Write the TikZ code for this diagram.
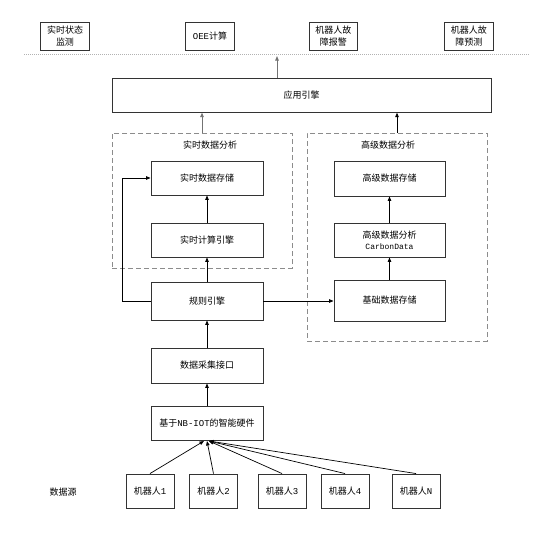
\documentclass[tikz,border=0pt]{standalone}
\usepackage{fontspec}
\setmainfont{Noto Sans CJK SC}
\newfontfamily\mono{Liberation Mono}
\usetikzlibrary{arrows.meta}
\tikzset{
  box/.style={draw=black!80, line width=0.9pt, fill=white, inner sep=0pt, align=center,
    font=\fontsize{9}{12.5}\selectfont},
  group/.style={draw=black!45, line width=0.8pt, dash pattern=on 5pt off 3pt, inner sep=0pt},
  arr/.style={draw=black, line width=0.8pt, -{Triangle[length=4.5pt,width=3.5pt]}},
  garr/.style={draw=black!55, line width=0.9pt, -{Triangle[length=4.5pt,width=3.5pt]}},
  lbl/.style={inner sep=0pt, font=\fontsize{9}{12}\selectfont},
}
\begin{document}
\begin{tikzpicture}[x=1pt,y=-1pt]
\useasboundingbox (0,0) rectangle (560,544);
% top row
\node[box, minimum width=48.5pt, minimum height=28pt] (t1) at (65,36) {实时状态\\监测};
\node[box, minimum width=48.5pt, minimum height=28pt] (t2) at (210,36) {{\mono OEE}计算};
\node[box, minimum width=48.5pt, minimum height=28pt] (t3) at (333.3,36) {机器人故\\障报警};
\node[box, minimum width=48.5pt, minimum height=28pt] (t4) at (468.8,36) {机器人故\\障预测};
\coordinate (dl) at (24,54);
\coordinate (dr) at (530,54);
\draw[black!30, line width=0.6pt, dash pattern=on 1pt off 1pt] (dl) -- (dr);
% application engine
\node[box, minimum width=379pt, minimum height=34pt] (app) at (301.5,95.2) {应用引擎};
\coordinate (apptop) at (277,56);
\draw[garr] (app.north -| apptop) -- (apptop);
% groups
\node[group, minimum width=180pt, minimum height=135pt] (lbox) at (202,200.5) {};
\node[group, minimum width=180pt, minimum height=208pt] (rbox) at (397,237) {};
\node[lbl] (ltitle) at (210,145) {实时数据分析};
\node[lbl] (rtitle) at (388,145) {高级数据分析};
\draw[garr] (lbox.north) -- (app.south -| lbox.north);
\draw[arr] (rbox.north) -- (app.south -| rbox.north);
% left group
\node[box, minimum width=112pt, minimum height=34pt] (rtstore) at (207,178) {实时数据存储};
\node[box, minimum width=112pt, minimum height=34pt] (rtcalc) at (207,240) {实时计算引擎};
\node[box, minimum width=112pt, minimum height=38pt] (rule) at (207,301) {规则引擎};
% right group
\node[box, minimum width=111pt, minimum height=35pt] (advstore) at (389.5,178.5) {高级数据存储};
\node[box, minimum width=111pt, minimum height=34pt, font=\fontsize{9}{11}\selectfont] (carbon) at (389.5,240) {高级数据分析\\{\mono\fontsize{8}{11}\selectfont CarbonData}};
\node[box, minimum width=111pt, minimum height=41pt] (base) at (389.5,300.5) {基础数据存储};
% lower chain
\node[box, minimum width=112pt, minimum height=35pt] (collect) at (207,365.5) {数据采集接口};
\node[box, minimum width=112pt, minimum height=34.7pt] (hw) at (207,423.3) {基于{\mono NB-IOT}的智能硬件};
% robots
\node[box, minimum width=48pt, minimum height=34pt] (r1) at (150,491) {机器人{\mono 1}};
\node[box, minimum width=48pt, minimum height=34pt] (r2) at (213.5,491) {机器人{\mono 2}};
\node[box, minimum width=48pt, minimum height=34pt] (r3) at (282,491) {机器人{\mono 3}};
\node[box, minimum width=48pt, minimum height=34pt] (r4) at (345,491) {机器人{\mono 4}};
\node[box, minimum width=48pt, minimum height=34pt] (rN) at (416,491) {机器人{\mono N}};
\node[lbl] (src) at (63,492) {数据源};
% connectors
\draw[arr] (rtcalc) -- (rtstore);
\draw[arr] (rule) -- (rtcalc);
\draw[arr] (collect) -- (rule);
\draw[arr] (hw) -- (collect);
\draw[arr] (base) -- (carbon);
\draw[arr] (carbon) -- (advstore);
\draw[arr] (rule.east) -- (base.west |- rule.east);
\coordinate (fb) at (122,178);
\draw[arr] (rule.west) -| (fb) -- (rtstore.west);
\coordinate (h1) at (204,441);
\coordinate (h2) at (207,441);
\coordinate (h3) at (209,441);
\draw[arr, line width=0.7pt] (r1.north) -- (h1);
\draw[arr, line width=0.7pt] (r2.north) -- (h2);
\draw[arr, line width=0.7pt] (r3.north) -- (h3);
\draw[arr, line width=0.7pt] (r4.north) -- (h3);
\draw[arr, line width=0.7pt] (rN.north) -- (h3);
\end{tikzpicture}
\end{document}
